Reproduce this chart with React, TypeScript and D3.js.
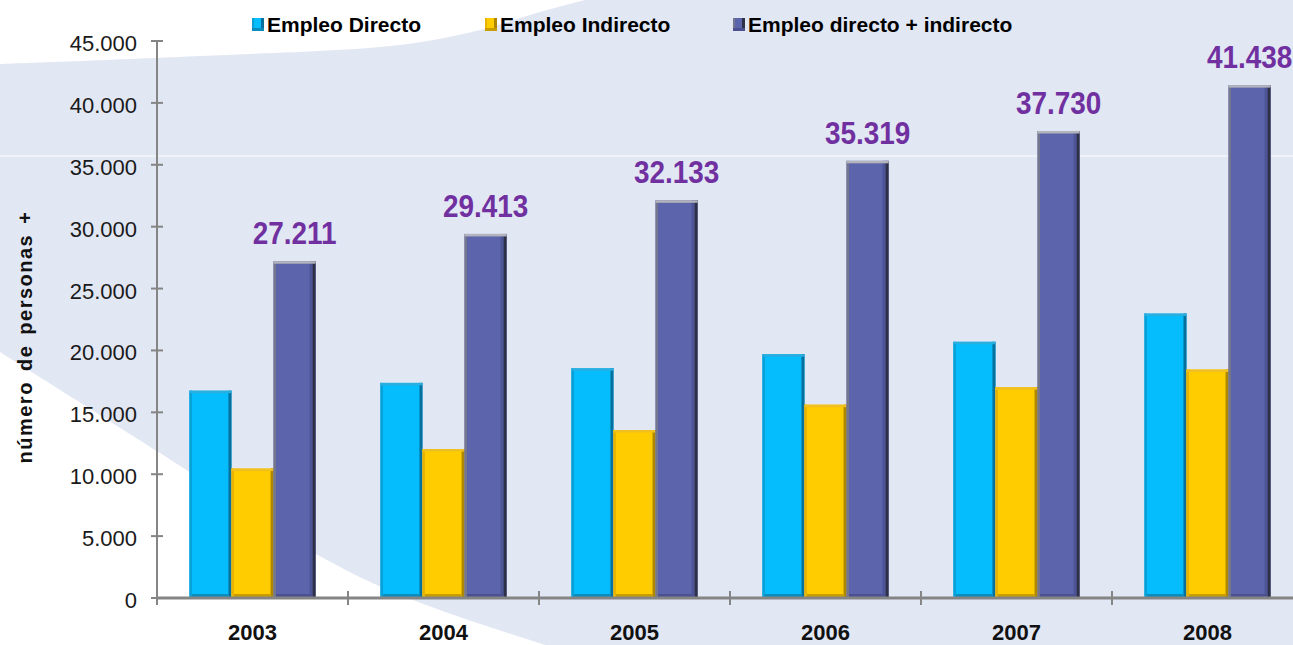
import React from 'react';
import * as d3 from 'd3';

const years = ['2003', '2004', '2005', '2006', '2007', '2008'];
const seriesNames = ['Empleo Directo', 'Empleo Indirecto', 'Empleo directo + indirecto'];
const directo = [16750, 17380, 18560, 19700, 20700, 22980];
const indirecto = [10461, 12033, 13573, 15619, 17030, 18458];
const total = [27211, 29413, 32133, 35319, 37730, 41438];
const yTicks = [0, 5000, 10000, 15000, 20000, 25000, 30000, 35000, 40000, 45000];

const W = 1293;
const H = 645;

const palette = [
  { main: '#05bdfd', left: '#0aa0d6', right: '#08709c', top: '#2aaede', bottom: '#0a8cbc' },
  { main: '#ffcc00', left: '#e8b300', right: '#ae8700', top: '#f0c020', bottom: '#c99c00' },
  { main: '#5c64ab', left: '#74768e', right: '#2e3048', top: '#b4b4bc', bottom: '#4a5090', inner: '#4d5596' },
];

const font = '"Liberation Sans", Arial, Helvetica, sans-serif';
const fmt = d3.formatLocale({ thousands: '.', grouping: [3], decimal: ',', currency: ['', ''] }).format(',d');

function Bar3D({ x, y, w, h, c }: { x: number; y: number; w: number; h: number; c: any }) {
  return (
    <g>
      <rect x={x} y={y} width={w} height={h} fill={c.main} />
      {c.inner && <rect x={x + w - 6} y={y} width={3} height={h} fill={c.inner} />}
      <rect x={x} y={y} width={2.5} height={h} fill={c.left} />
      <rect x={x + w - 3} y={y} width={3} height={h} fill={c.right} />
      <rect x={x} y={y} width={w} height={2.5} fill={c.top} />
      <rect x={x + 2.5} y={y + h - 4} width={w - 5.5} height={4} fill={c.bottom} />
    </g>
  );
}

export default function App() {
  const x0 = d3.scaleBand<string>().domain(years).range([157, 157 + 191 * 6]).padding(0);
  const x1 = d3
    .scaleBand<string>()
    .domain(seriesNames)
    .range([0, x0.bandwidth()])
    .paddingInner(0)
    .paddingOuter(0.77);
  const y = d3.scaleLinear().domain([0, 45000]).range([598, 41]);

  const lineGen = d3.line().curve(d3.curveCatmullRom);
  const topWhite =
    lineGen([
      [0, 64],
      [200, 56],
      [400, 45],
      [480, 30],
      [540, 12],
      [585, 0],
    ] as any) + 'L0,0Z';
  const bottomWhite =
    lineGen([
      [0, 352],
      [160, 453],
      [327, 560],
      [413, 600],
      [545, 645],
    ] as any) + 'L0,645Z';

  const seriesData = [directo, indirecto, total];
  const legendX = [252, 485, 733];

  return (
    <svg
      width={W}
      height={H}
      style={{ position: 'absolute', left: 0, top: 0, display: 'block' }}
      fontFamily={font}
    >
      <rect x={0} y={0} width={W} height={H} fill="#e2e7f4" />
      <path d={topWhite} fill="#ffffff" />
      <path d={bottomWhite} fill="#ffffff" />
      <line x1={0} x2={W} y1={156} y2={156} stroke="#ffffff" strokeOpacity={0.6} strokeWidth={1.5} />

      {/* bars */}
      {years.map((yr, i) => (
        <g key={yr}>
          {seriesNames.map((s, k) => {
            const v = seriesData[k][i];
            const bx = (x0(yr) as number) + (x1(s) as number);
            return (
              <Bar3D key={s} x={bx} y={y(v)} w={x1.bandwidth()} h={598 - y(v)} c={palette[k]} />
            );
          })}
          <text
            transform={`translate(${(x0(yr) as number) + (x1(seriesNames[2]) as number) + x1.bandwidth() / 2},${
              y(total[i]) - 17
            }) scale(0.9,1)`}
            textAnchor="middle"
            fontSize={31}
            fontWeight="bold"
            fill="#7030a0"
          >
            {fmt(total[i])}
          </text>
        </g>
      ))}

      {/* y axis */}
      <line x1={157} x2={157} y1={y(45000)} y2={598} stroke="#858585" strokeWidth={2} />
      {yTicks.map((t) => (
        <g key={t}>
          <line x1={151} x2={163} y1={y(t)} y2={y(t)} stroke="#858585" strokeWidth={2} />
          <text x={137} y={y(t) + 10} textAnchor="end" fontSize={22} fill="#1a1a1a">
            {fmt(t)}
          </text>
        </g>
      ))}

      {/* x axis */}
      <line x1={157} x2={W} y1={598} y2={598} stroke="#858585" strokeWidth={3} />
      {years.map((yr) => (
        <g key={yr}>
          <line
            x1={x0(yr) as number}
            x2={x0(yr) as number}
            y1={591}
            y2={605}
            stroke="#858585"
            strokeWidth={2}
          />
          <text
            x={(x0(yr) as number) + x0.bandwidth() / 2}
            y={640}
            textAnchor="middle"
            fontSize={22}
            fontWeight="bold"
            fill="#111"
          >
            {yr}
          </text>
        </g>
      ))}

      {/* y title */}
      <text
        transform="translate(32,337) rotate(-90)"
        textAnchor="middle"
        fontSize={20}
        fontWeight="bold"
        letterSpacing={1.5}
        wordSpacing={3}
        fill="#111"
      >
        número de personas +
      </text>

      {/* legend */}
      {seriesNames.map((s, k) => (
        <g key={s}>
          <rect x={legendX[k]} y={18} width={12} height={13} fill={palette[k].main} />
          <rect x={legendX[k]} y={18} width={2} height={13} fill={palette[k].left} />
          <rect x={legendX[k] + 9} y={18} width={3} height={13} fill={palette[k].right} />
          <rect x={legendX[k]} y={28} width={12} height={3} fill={palette[k].bottom} />
          <text x={legendX[k] + 15} y={32} fontSize={21} fontWeight="bold" fill="#000">
            {s}
          </text>
        </g>
      ))}
    </svg>
  );
}
